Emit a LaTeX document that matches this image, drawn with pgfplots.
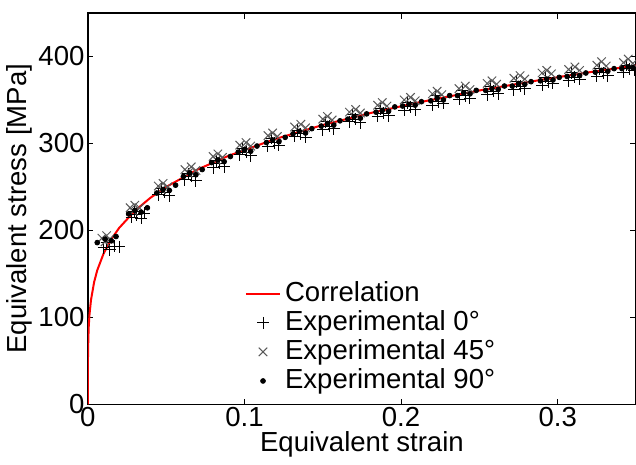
\documentclass[border=0pt]{standalone}
\usepackage{fontspec}
\setmainfont{Liberation Sans}
\usepackage{pgfplots}
\pgfplotsset{compat=1.18}
\definecolor{crossgray}{rgb}{0.35,0.35,0.35}
\begin{document}
\fontsize{13.8}{16}\selectfont
\begin{tikzpicture}
\begin{axis}[name=ax,
  scale only axis, width=274.5pt, height=196pt,
  xmin=0, xmax=0.35, ymin=0, ymax=450,
  xtick={0,0.1,0.2,0.3}, ytick={0,100,200,300,400},
  tick align=inside, major tick length=2.8pt,
  tick style={black, line width=0.5pt},
  axis line style={black, line width=0.7pt},
  font=\fontsize{13.8}{16}\selectfont,
  /pgf/number format/assume math mode=true,
  xticklabel style={inner sep=1pt, /pgf/number format/fixed},
  yticklabel style={inner sep=1.5pt},
  xlabel={Equivalent strain}, ylabel={Equivalent stress [MPa]},
  xlabel style={yshift=3pt}, ylabel style={yshift=-3pt},
  legend style={draw=none, fill=none, at={(0.275,0.335)}, anchor=north west,
    font=\fontsize{13.8}{16}\selectfont, row sep=-1.5pt},
  legend cell align=left,
]
\addplot[red, line width=1pt] coordinates {
(0,0) (0.0001,60.6) (0.0005,87.5) (0.001,102.5) (0.002,120.0) (0.004,140.6)
(0.006,154.2) (0.01,173.2) (0.015,190.0) (0.02,202.9) (0.03,222.5) (0.04,237.6)
(0.05,250.0) (0.07,270.0) (0.09,285.9) (0.12,305.3) (0.15,321.2) (0.18,334.8)
(0.21,346.7) (0.25,360.9) (0.29,373.3) (0.32,381.8) (0.35,389.6)};
\addlegendentry{Correlation}
\addplot[only marks, mark=+, mark size=3pt, black, line width=0.5pt] coordinates {
(0.010,180) (0.014,178) (0.017,182) (0.020,181) (0.012,186)
(0.028,215) (0.031,218) (0.034,214) (0.036,220) (0.030,222)
(0.045,241) (0.049,244) (0.052,240) (0.047,248)
(0.062,258) (0.066,262) (0.069,257) (0.064,265)
(0.080,272) (0.084,277) (0.087,273) (0.082,280)
(0.097,287) (0.101,290) (0.104,286) (0.099,294)
(0.115,297) (0.119,301) (0.122,298) (0.117,306)
(0.132,308) (0.136,311) (0.139,307) (0.134,315)
(0.150,316) (0.154,320) (0.157,317) (0.152,325)
(0.167,325) (0.171,328) (0.174,324) (0.169,333)
(0.185,331) (0.189,335) (0.192,332) (0.187,340)
(0.202,338) (0.206,342) (0.209,339) (0.204,347)
(0.220,344) (0.224,348) (0.227,346) (0.222,355)
(0.237,351) (0.241,355) (0.244,352) (0.239,361)
(0.255,356) (0.259,360) (0.262,357) (0.257,366)
(0.272,362) (0.276,366) (0.279,363) (0.274,371)
(0.290,367) (0.294,371) (0.297,369) (0.292,376)
(0.307,372) (0.311,376) (0.314,374) (0.309,381)
(0.325,377) (0.329,381) (0.332,378) (0.327,386)
(0.342,382) (0.346,386) (0.349,384) (0.344,390)};
\addlegendentry{Experimental 0°}
\addplot[only marks, mark=x, mark size=3pt, crossgray, line width=0.5pt] coordinates {
(0.009,191) (0.012,194) (0.014,190) (0.011,187)
(0.027,226) (0.030,229) (0.033,226) (0.029,222)
(0.045,251) (0.048,254) (0.051,250) (0.047,247)
(0.062,270) (0.066,273) (0.069,269) (0.064,266)
(0.080,285) (0.083,288) (0.086,284) (0.082,281)
(0.097,298) (0.101,301) (0.104,297) (0.099,294)
(0.115,309) (0.118,312) (0.121,308)
(0.132,319) (0.136,322) (0.139,318)
(0.150,328) (0.153,331) (0.156,327)
(0.167,336) (0.171,339) (0.174,335)
(0.185,344) (0.188,347) (0.191,343)
(0.202,350) (0.206,353) (0.209,349)
(0.220,357) (0.223,360) (0.226,356)
(0.237,363) (0.241,366) (0.244,362)
(0.255,369) (0.258,372) (0.261,368)
(0.272,375) (0.276,378) (0.279,374)
(0.290,381) (0.293,384) (0.296,380)
(0.307,385) (0.311,388) (0.314,384)
(0.325,390) (0.328,394) (0.331,389)
(0.342,393) (0.345,397) (0.348,392)};
\addlegendentry{Experimental 45°}
\addplot[only marks, mark=*, mark size=1.2pt, black] coordinates {
(0.006,186) (0.011,190) (0.015,188) (0.018,193)
(0.026,219) (0.030,223) (0.034,221) (0.038,226)
(0.044,243) (0.048,247) (0.052,246) (0.056,252)
(0.061,262) (0.065,266) (0.069,264) (0.073,270)
(0.079,278) (0.083,281) (0.087,279) (0.091,285)
(0.096,290) (0.100,293) (0.104,291) (0.108,297)
(0.114,301) (0.118,304) (0.122,302) (0.126,307)
(0.131,311) (0.135,314) (0.139,312) (0.143,317)
(0.149,320) (0.153,323) (0.157,321) (0.161,326)
(0.166,328) (0.170,331) (0.174,329) (0.178,334)
(0.184,336) (0.188,338) (0.192,337) (0.196,342)
(0.201,343) (0.205,345) (0.209,344) (0.213,348)
(0.219,349) (0.223,352) (0.227,350) (0.231,355)
(0.236,355) (0.240,358) (0.244,357) (0.248,361)
(0.254,361) (0.258,363) (0.262,362) (0.266,366)
(0.271,366) (0.275,369) (0.279,368) (0.283,371)
(0.289,372) (0.293,374) (0.297,373) (0.301,376)
(0.306,377) (0.310,379) (0.314,378) (0.318,381)
(0.324,382) (0.328,384) (0.332,383) (0.336,386)
(0.341,386) (0.345,388) (0.348,387)};
\addlegendentry{Experimental 90°}
\end{axis}
\pgfresetboundingbox
\path ([xshift=-44pt,yshift=-30pt]ax.south west) rectangle ([yshift=6.5pt]ax.north east);
\end{tikzpicture}
\end{document}
